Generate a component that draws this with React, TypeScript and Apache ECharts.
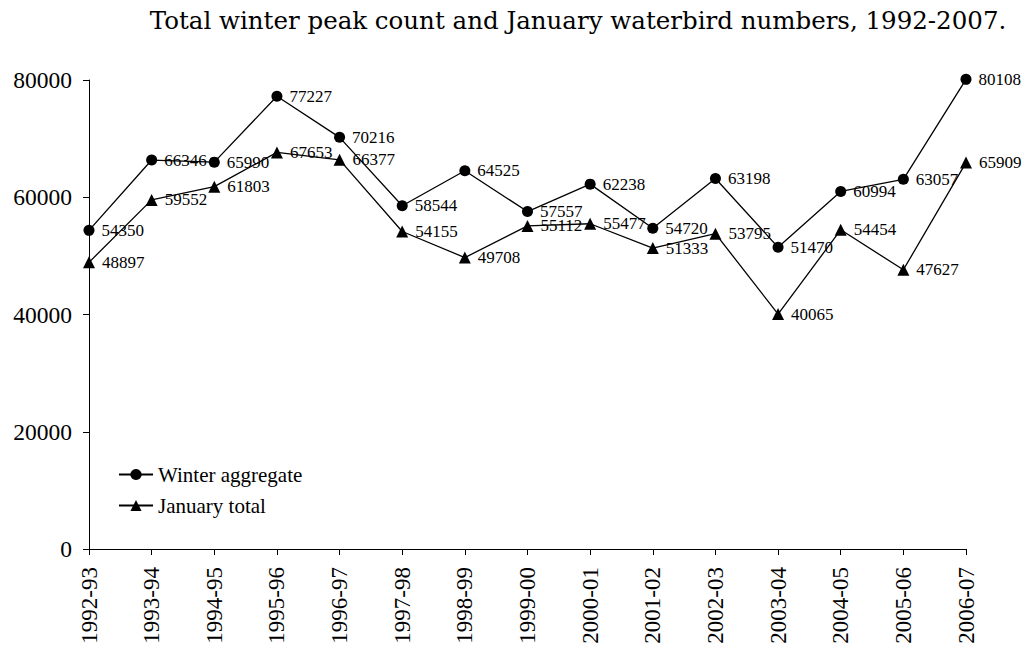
import React, { useEffect, useRef } from "react";
import * as echarts from "echarts";

const seasons = ["1992-93","1993-94","1994-95","1995-96","1996-97","1997-98","1998-99","1999-00","2000-01","2001-02","2002-03","2003-04","2004-05","2005-06","2006-07"];
const winterAggregate = [54350,66346,65990,77227,70216,58544,64525,57557,62238,54720,63198,51470,60994,63057,80108];
const januaryTotal = [48897,59552,61803,67653,66377,54155,49708,55112,55477,51333,53795,40065,54454,47627,65909];
const yTicks = { min: 0, max: 80000, interval: 20000 };
const titleText = "Total winter peak count and January waterbird numbers, 1992-2007.";

const serif = "Liberation Serif";

export default function App() {
  const ref = useRef<HTMLDivElement>(null);
  useEffect(() => {
    const chart = echarts.init(ref.current!, null, { renderer: "svg" });
    const label = {
      show: true,
      position: "right" as const,
      distance: 7,
      color: "#000",
      fontFamily: serif,
      fontSize: 17,
    };
    chart.setOption({
      animation: false,
      backgroundColor: "#fff",
      title: {
        text: titleText,
        left: 573,
        textAlign: "center",
        top: 3,
        textStyle: { fontFamily: "DejaVu Serif", fontWeight: "normal", fontSize: 24.5, color: "#000" },
      },
      legend: {
        orient: "vertical",
        left: 118,
        top: 464,
        padding: 0,
        itemWidth: 34,
        itemHeight: 14,
        itemGap: 10,
        textStyle: { fontFamily: serif, fontSize: 21, color: "#000" },
        data: ["Winter aggregate", "January total"],
      },
      grid: { left: 89, right: 65, top: 80, bottom: 103, outerBoundsMode: "none" },
      xAxis: {
        type: "category",
        data: seasons,
        boundaryGap: false,
        axisLine: { lineStyle: { color: "#000", width: 1 } },
        axisTick: { show: true, length: 6, alignWithLabel: true, lineStyle: { color: "#000" } },
        axisLabel: { rotate: 90, color: "#000", fontFamily: serif, fontSize: 23, margin: 18, interval: 0 },
      },
      yAxis: {
        type: "value",
        min: yTicks.min,
        max: yTicks.max,
        interval: yTicks.interval,
        axisLine: { show: true, lineStyle: { color: "#000", width: 1 } },
        axisTick: { show: true, length: 6, lineStyle: { color: "#000" } },
        splitLine: { show: false },
        axisLabel: {
          color: "#000",
          fontFamily: serif,
          fontSize: 23.5,
          margin: 17,
          formatter: (v: number) => String(v),
        },
      },
      series: [
        {
          name: "Winter aggregate",
          type: "line",
          data: winterAggregate,
          symbol: "circle",
          symbolSize: 11,
          clip: false,
          itemStyle: { color: "#000" },
          lineStyle: { color: "#000", width: 1.3 },
          label,
        },
        {
          name: "January total",
          type: "line",
          data: januaryTotal,
          symbol: "triangle",
          symbolSize: 12,
          clip: false,
          itemStyle: { color: "#000" },
          lineStyle: { color: "#000", width: 1.3 },
          label,
        },
      ],
    });
    return () => chart.dispose();
  }, []);
  return (
    <div
      ref={ref}
      style={{ position: "fixed", left: 0, top: 0, width: 1031, height: 652, background: "#fff" }}
    />
  );
}
